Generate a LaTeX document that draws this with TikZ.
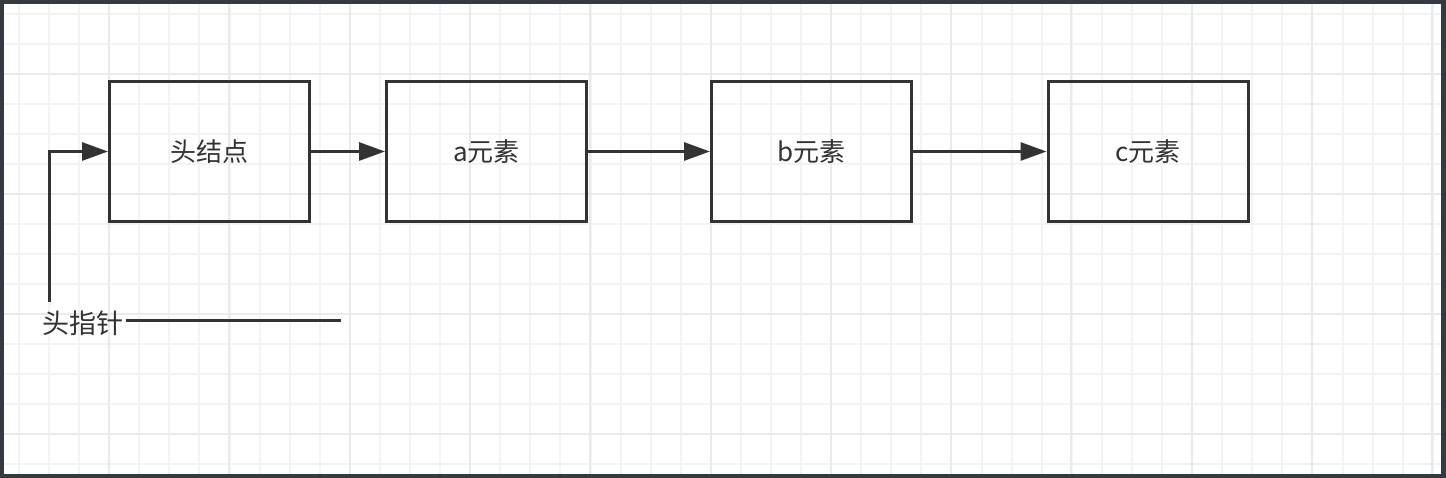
\documentclass[tikz,border=0pt]{standalone}
\usepackage{fontspec}
\setmainfont{Noto Sans CJK SC}
\usetikzlibrary{arrows.meta}
\definecolor{gridminor}{HTML}{F3F3F3}
\definecolor{gridmajor}{HTML}{EAEAEA}
\definecolor{frame}{HTML}{343A40}
\definecolor{ink}{HTML}{333333}
\begin{document}
\begin{tikzpicture}[x=1pt,y=-1pt,
  box/.style={draw=ink,line width=3pt,minimum width=200pt,minimum height=140pt,inner sep=0pt,font=\fontsize{26}{30}\selectfont,text=ink},
  link/.style={draw=ink,line width=3pt,-{Triangle[length=26pt,width=18pt]}},
  plain/.style={draw=ink,line width=3pt},
  lbl/.style={inner sep=0pt,font=\fontsize{27}{30}\selectfont,text=ink}]
\useasboundingbox (0,0) rectangle (1446,478);
\fill[frame] (0,0) rectangle (1446,478);
\fill[white] (4,4) rectangle (1441,474);
\begin{scope}
\clip (4,4) rectangle (1441,474);
\foreach \i in {0,...,47} {
  \pgfmathsetmacro{\xx}{19+30.08*\i}
  \draw[gridminor,line width=2pt] (\xx,4) -- (\xx,474);
}
\foreach \i in {0,...,15} {
  \pgfmathsetmacro{\yy}{14+30*\i}
  \draw[gridminor,line width=2pt] (4,\yy) -- (1441,\yy);
}
\foreach \i in {0,...,11} {
  \pgfmathsetmacro{\xx}{109+120.3*\i}
  \draw[gridmajor,line width=2pt] (\xx,4) -- (\xx,474);
}
\foreach \i in {0,...,3} {
  \pgfmathsetmacro{\yy}{74+120*\i}
  \draw[gridmajor,line width=2pt] (4,\yy) -- (1441,\yy);
}
\end{scope}
\node[box] (head) at (209.5,151.5) {头结点};
\node[box] (a) at (486.5,151.5) {a元素};
\node[box] (b) at (811.5,151.5) {b元素};
\node[box] (c) at (1148,151.5) {c元素};
\draw[link] (head) -- (a);
\draw[link] (a) -- (b);
\draw[link] (b) -- (c);
\node[lbl] (ptr) at (82.5,323) {头指针};
\coordinate (ptrtop) at (49,302);
\coordinate (ptrend) at (341,321);
\draw[link] (ptrtop) |- (head.west);
\draw[plain] (ptr.east |- ptrend) ++(3,0) -- (ptrend);
\end{tikzpicture}
\end{document}
